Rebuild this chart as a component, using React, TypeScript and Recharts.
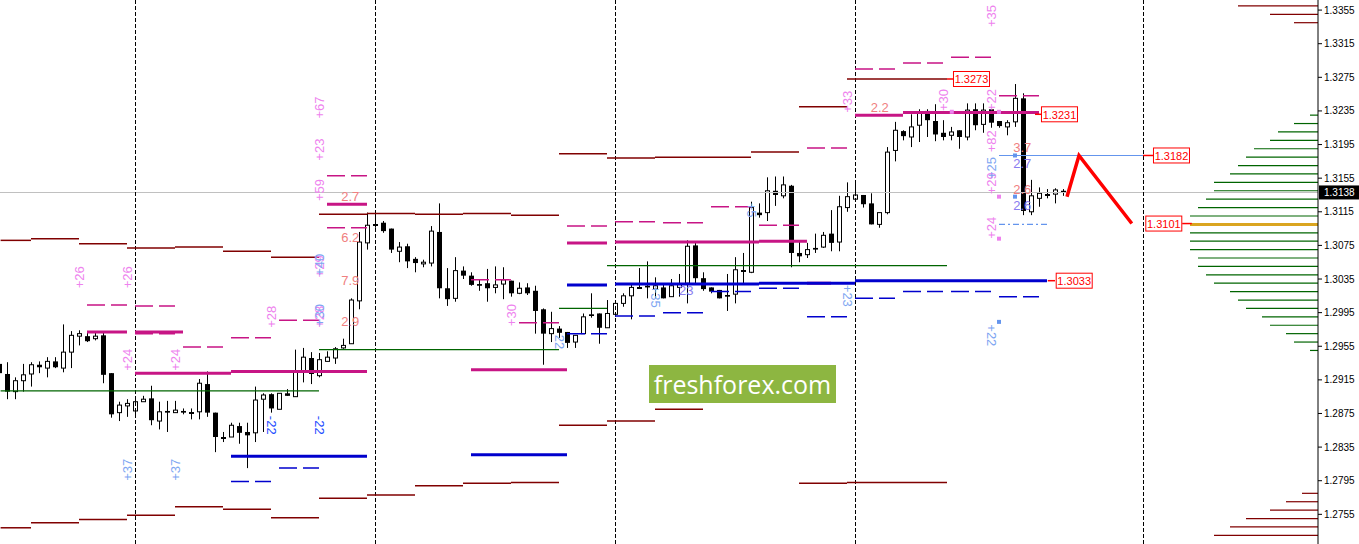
import { ComposedChart, Bar, Line, XAxis, YAxis, ReferenceLine, ReferenceDot } from 'recharts';

// bar index -> [open, high, low, close]
const ohlc: number[][] = [
  [1.2934, 1.2939, 1.2917, 1.2923], [1.2922, 1.2936, 1.2892, 1.2901], [1.2901, 1.2918, 1.2892, 1.2914],
  [1.2914, 1.2934, 1.2901, 1.2921], [1.2922, 1.2936, 1.2907, 1.2933], [1.2933, 1.2937, 1.2923, 1.2930],
  [1.2929, 1.2942, 1.2918, 1.2937], [1.2937, 1.2942, 1.2929, 1.2930], [1.2929, 1.2981, 1.2924, 1.2948],
  [1.2948, 1.2973, 1.2929, 1.2968], [1.2967, 1.2974, 1.2956, 1.2970], [1.2967, 1.2972, 1.2960, 1.2961],
  [1.2964, 1.2972, 1.2962, 1.2967], [1.2968, 1.2972, 1.2911, 1.2921], [1.2923, 1.2923, 1.2870, 1.2874],
  [1.2876, 1.2889, 1.2866, 1.2885], [1.2884, 1.2892, 1.2871, 1.2887], [1.2878, 1.2895, 1.2873, 1.2889],
  [1.2889, 1.2896, 1.2889, 1.2892], [1.2893, 1.2908, 1.2861, 1.2867], [1.2866, 1.2889, 1.2856, 1.2877],
  [1.2878, 1.2890, 1.2853, 1.2876], [1.2876, 1.2890, 1.2876, 1.2879], [1.2878, 1.2881, 1.2874, 1.2876],
  [1.2877, 1.2881, 1.2868, 1.2876], [1.2877, 1.2916, 1.2868, 1.2911], [1.2910, 1.2925, 1.2871, 1.2876],
  [1.2876, 1.2876, 1.2829, 1.2847], [1.2847, 1.2853, 1.2841, 1.2847], [1.2847, 1.2864, 1.2847, 1.2861],
  [1.2860, 1.2864, 1.2839, 1.2852], [1.2853, 1.2864, 1.2810, 1.2849], [1.2852, 1.2907, 1.2841, 1.2891],
  [1.2892, 1.2899, 1.2853, 1.2897], [1.2898, 1.2899, 1.2876, 1.2881], [1.2880, 1.2899, 1.2880, 1.2899],
  [1.2899, 1.2904, 1.2896, 1.2896], [1.2895, 1.2951, 1.2895, 1.2925], [1.2925, 1.2953, 1.2912, 1.2942],
  [1.2941, 1.2948, 1.2910, 1.2922], [1.2920, 1.2947, 1.2918, 1.2939], [1.2937, 1.2949, 1.2937, 1.2942],
  [1.2941, 1.2954, 1.2934, 1.2952], [1.2953, 1.2964, 1.2952, 1.2956], [1.2958, 1.3012, 1.2958, 1.3010],
  [1.3009, 1.3091, 1.2999, 1.3079], [1.3078, 1.3114, 1.3070, 1.3099], [1.3100, 1.3114, 1.3096, 1.3100],
  [1.3102, 1.3104, 1.3090, 1.3092], [1.3095, 1.3095, 1.3066, 1.3070], [1.3068, 1.3079, 1.3055, 1.3073],
  [1.3074, 1.3077, 1.3048, 1.3056], [1.3059, 1.3061, 1.3043, 1.3054], [1.3053, 1.3058, 1.3049, 1.3055],
  [1.3054, 1.3098, 1.3050, 1.3092], [1.3091, 1.3125, 1.3012, 1.3024], [1.3024, 1.3048, 1.3003, 1.3011],
  [1.3012, 1.3061, 1.3008, 1.3045], [1.3045, 1.3050, 1.3035, 1.3039], [1.3039, 1.3043, 1.3027, 1.3028],
  [1.3029, 1.3034, 1.3021, 1.3027], [1.3030, 1.3047, 1.3008, 1.3024], [1.3025, 1.3050, 1.3018, 1.3028],
  [1.3029, 1.3049, 1.3011, 1.3034], [1.3033, 1.3033, 1.3014, 1.3018], [1.3018, 1.3031, 1.3017, 1.3024],
  [1.3025, 1.3030, 1.3016, 1.3018], [1.3021, 1.3027, 1.2970, 1.2997], [1.2999, 1.3000, 1.2933, 1.2970],
  [1.2970, 1.2996, 1.2960, 1.2976], [1.2976, 1.2979, 1.2965, 1.2971], [1.2972, 1.2972, 1.2953, 1.2959],
  [1.2960, 1.2968, 1.2953, 1.2968], [1.2970, 1.2994, 1.2970, 1.2990], [1.2993, 1.3018, 1.2989, 1.2991],
  [1.2994, 1.2994, 1.2958, 1.2977], [1.2977, 1.3010, 1.2977, 1.2994], [1.2993, 1.3006, 1.2990, 1.3006],
  [1.3006, 1.3018, 1.3002, 1.3015], [1.3015, 1.3029, 1.2987, 1.3025], [1.3025, 1.3048, 1.3025, 1.3025],
  [1.3027, 1.3056, 1.3012, 1.3025], [1.3023, 1.3037, 1.3012, 1.3027], [1.3025, 1.3030, 1.3012, 1.3012],
  [1.3014, 1.3035, 1.3014, 1.3027], [1.3025, 1.3041, 1.3014, 1.3029], [1.3030, 1.3081, 1.3006, 1.3074],
  [1.3075, 1.3078, 1.3030, 1.3036], [1.3036, 1.3043, 1.3021, 1.3023], [1.3025, 1.3025, 1.3018, 1.3020],
  [1.3022, 1.3022, 1.3012, 1.3012], [1.3016, 1.3041, 1.2997, 1.3014], [1.3017, 1.3061, 1.3006, 1.3046],
  [1.3046, 1.3066, 1.3030, 1.3045], [1.3043, 1.3127, 1.3042, 1.3120], [1.3114, 1.3125, 1.3108, 1.3111],
  [1.3114, 1.3156, 1.3104, 1.3140], [1.3140, 1.3157, 1.3122, 1.3135], [1.3134, 1.3157, 1.3131, 1.3147],
  [1.3146, 1.3147, 1.3049, 1.3066], [1.3066, 1.3080, 1.3055, 1.3062], [1.3064, 1.3078, 1.3060, 1.3070],
  [1.3072, 1.3089, 1.3066, 1.3070], [1.3073, 1.3091, 1.3072, 1.3087], [1.3089, 1.3117, 1.3068, 1.3078],
  [1.3079, 1.3134, 1.3068, 1.3121], [1.3120, 1.3150, 1.3115, 1.3133], [1.3130, 1.3149, 1.3130, 1.3135],
  [1.3135, 1.3135, 1.3120, 1.3124], [1.3125, 1.3137, 1.3100, 1.3100], [1.3100, 1.3114, 1.3096, 1.3114],
  [1.3114, 1.3192, 1.3112, 1.3186], [1.3188, 1.3222, 1.3175, 1.3212], [1.3211, 1.3212, 1.3200, 1.3205],
  [1.3204, 1.3231, 1.3192, 1.3216], [1.3218, 1.3237, 1.3198, 1.3234], [1.3235, 1.3237, 1.3204, 1.3224],
  [1.3223, 1.3243, 1.3199, 1.3207], [1.3209, 1.3224, 1.3200, 1.3204], [1.3206, 1.3216, 1.3200, 1.3210],
  [1.3212, 1.3212, 1.3190, 1.3204], [1.3204, 1.3244, 1.3200, 1.3236], [1.3237, 1.3244, 1.3212, 1.3218],
  [1.3219, 1.3244, 1.3209, 1.3236], [1.3237, 1.3237, 1.3215, 1.3221], [1.3223, 1.3223, 1.3215, 1.3217],
  [1.3216, 1.3224, 1.3206, 1.3221], [1.3222, 1.3267, 1.3216, 1.3250], [1.3250, 1.3256, 1.3111, 1.3116],
  [1.3115, 1.3153, 1.3111, 1.3134], [1.3131, 1.3144, 1.3121, 1.3137], [1.3136, 1.3142, 1.3131, 1.3136],
  [1.3136, 1.3143, 1.3125, 1.3141], [1.3140, 1.3142, 1.3134, 1.3138],
];

const lastPrice = 1.3138;
const daySeparators = [17, 47, 77, 107, 143];
const priceTicks = [1.2755, 1.2795, 1.2835, 1.2875, 1.2915, 1.2955, 1.2995, 1.3035, 1.3075, 1.3115, 1.3155, 1.3195, 1.3235, 1.3275, 1.3315, 1.3355];

// [fromBar, toBar, price]
const darkRedLevels = [
  [0.2, 4, 1.3081], [4, 10, 1.3083], [10, 16, 1.3077], [16, 22, 1.3072], [22, 28, 1.3073], [28, 34, 1.3068],
  [34, 40, 1.3061], [40, 46, 1.3112], [46, 52, 1.3113], [52, 58, 1.3112], [58, 64, 1.3113], [64, 70, 1.3111],
  [70, 76, 1.3184], [76, 82, 1.3179], [82, 94, 1.3180], [94, 100, 1.3186], [100, 106, 1.3240], [106, 118.5, 1.3273],
  [0.2, 4, 1.2739], [4, 10, 1.2745], [10, 16, 1.2749], [16, 22, 1.2754], [22, 28, 1.2764], [28, 34, 1.2761],
  [34, 40, 1.2751], [40, 46, 1.2774], [46, 52, 1.2778], [52, 58, 1.2789], [58, 64, 1.2792], [64, 70, 1.2793],
  [70, 76, 1.2861], [76, 82, 1.2866], [82, 88, 1.2880], [88, 94, 1.2889], [100, 106, 1.2792], [106, 118.5, 1.2793],
];
const magentaLevels = [
  [11, 16, 1.2972], [17, 23, 1.2972], [17, 29, 1.2923], [29, 46, 1.2925], [41, 46, 1.3124], [59, 71, 1.2927],
  [71, 76, 1.3078], [77, 95, 1.3079], [95, 101, 1.3080], [101, 104, 1.3030], [107, 113, 1.3230], [113, 130, 1.3233],
];
const magentaDashed = [
  [11, 16, 1.3004], [17, 22, 1.3003], [17, 22, 1.2970], [23, 28, 1.2954], [29, 34, 1.2965], [35, 40, 1.2986],
  [41, 46, 1.3158], [41, 46, 1.3096], [59, 64, 1.3034], [65, 70, 1.2983], [71, 76, 1.3098], [77, 82, 1.3103],
  [83, 88, 1.3102], [89, 94, 1.3121], [95, 100, 1.3099], [101, 106, 1.3191], [107, 112, 1.3285], [113, 118, 1.3292],
  [119, 124, 1.3299], [125, 130, 1.3253],
];
const greenLevels = [[0.2, 40, 1.2902], [40, 70, 1.2951], [70, 76, 1.3000], [76, 118.5, 1.3051]];
const blueLevels = [[29, 46, 1.2824], [59, 71, 1.2826], [71, 76, 1.3028], [77, 95, 1.3029], [95, 107, 1.3030], [107, 131, 1.3033]];
const blueDashed = [
  [29, 34, 1.2794], [35, 40, 1.2810], [71, 76, 1.2970], [77, 82, 1.2991], [83, 88, 1.2995], [89, 94, 1.3020],
  [95, 100, 1.3024], [101, 106, 1.2990], [107, 112, 1.3012], [113, 118, 1.3020], [119, 124, 1.3020], [125, 130, 1.3014],
];
const targetLine = [125, 143, 1.3182];
const stopLine = [125, 131, 1.3100];

// forecast path
const forecast = [
  { i: 133.5, z: 1.3133 },
  { i: 135, z: 1.3182 },
  { i: 141.6, z: 1.3101 },
];

// price profile on the right: price, length in bars
const profilePrices = [
  1.3230, 1.3220, 1.3210, 1.3200, 1.3190, 1.3180, 1.3170, 1.3160, 1.3150, 1.3140, 1.3130, 1.3120, 1.3110,
  1.3090, 1.3080, 1.3070, 1.3060, 1.3050, 1.3040, 1.3030, 1.3020, 1.3010, 1.3000, 1.2990, 1.2980, 1.2970, 1.2960, 1.2950,
];
const profileCounts = [1, 3, 5, 6, 8, 9, 10, 11, 13, 13, 14, 15, 16, 16, 16, 16, 15, 15, 14, 13, 11, 10, 9, 7, 6, 4, 3, 1];
const pocPrice = 1.3100;
const pocCount = 16;
const extremePrices = [1.3360, 1.3350, 1.3340, 1.2780, 1.2770, 1.2760, 1.2750, 1.2740, 1.2730];
const extremeCounts = [10, 6, 3, 2, 4, 6, 9, 11, 13];

// [bar, price, text]
const pinkUp: [number, number, string][] = [
  [10.1, 1.3037, '+26'], [16.1, 1.3037, '+26'], [16.1, 1.2939, '+24'], [22.1, 1.2939, '+24'],
  [34.1, 1.2990, '+28'], [40.1, 1.2990, '+28'], [40.1, 1.3050, '+29'], [40.1, 1.3141, '+59'],
  [40.1, 1.3189, '+23'], [40.1, 1.3239, '+67'], [64.1, 1.2992, '+30'], [106.1, 1.3246, '+33'],
  [118.1, 1.3248, '+30'], [124.1, 1.3348, '+35'], [124.1, 1.3248, '+22'], [124.1, 1.3199, '+82'],
  [124.1, 1.3149, '+29'], [124.1, 1.3096, '+24'],
];
const blueUp: [number, number, string][] = [
  [16.1, 1.2808, '+37'], [22.1, 1.2808, '+37'], [40.1, 1.2992, '+30'], [40.1, 1.3052, '+40'], [124.1, 1.3167, '+25'],
];
const blueDown: [number, number, string][] = [
  [82, 1.3014, '+35'], [94, 1.3117, '+5'], [106, 1.3015, '+23'], [124.1, 1.2968, '+22'], [70, 1.2960, '22'],
];
const deepBlueDown: [number, number, string][] = [[34.1, 1.2861, '-22'], [40.1, 1.2861, '-22']];
const salmonText: [number, number, string][] = [
  [43.9, 1.3133, '2.7'], [43.9, 1.3084, '6.2'], [43.9, 1.3033, '7.9'], [43.9, 1.2984, '2.9'],
  [110.1, 1.3239, '2.2'], [127.9, 1.3191, '3.7'], [127.9, 1.3142, '2.6'],
];
const violetText: [number, number, string][] = [[85.9, 1.3021, '23'], [127.9, 1.3173, '2.7'], [127.9, 1.3123, '2.6']];
const pinkDots: [number, number][] = [[125, 1.3234], [125, 1.3133], [125, 1.3083], [119.1, 1.3234]];
const blueDots: [number, number][] = [[127, 1.3182], [127, 1.3133], [125, 1.2984]];

// [centerBar, price, text]
const priceBoxes: [number, number, string][] = [
  [121.56, 1.3273, '1.3273'], [132.56, 1.3231, '1.3231'], [146.56, 1.3182, '1.3182'],
  [145.6, 1.3101, '1.3101'], [134.4, 1.3033, '1.3033'],
];
const boxLinks = [[118.5, 119.3, 1.3273], [129.5, 130.4, 1.3231], [143, 144.4, 1.3182], [147.9, 149.1, 1.3101], [131.1, 132, 1.3033]];

const X_MIN = 0.125;
const X_MAX = 164.875;
const Y_MIN = 1.27197;
const Y_MAX = 1.3367;

const candles = ohlc.map((v, i) => ({ i, o: v[0], h: v[1], l: v[2], c: v[3], range: [v[2], v[1]] }));

const FONT = '"Liberation Sans", Arial, sans-serif';

function Candle(props: any) {
  const { x, y, width, height, payload } = props;
  const { o, h, l, c } = payload;
  const k = h === l ? 0 : height / (h - l);
  const mid = Math.round(x + width / 2) + 0.5;
  const top = y + (h - Math.max(o, c)) * k;
  const bh = Math.abs(o - c) * k;
  const left = mid - 2.5;
  return (
    <g>
      <line x1={mid} x2={mid} y1={y} y2={y + height} stroke="#000" strokeWidth={1} />
      {bh < 1.5 ? (
        <rect x={left} y={Math.round(top)} width={5} height={2} fill="#000" />
      ) : c >= o ? (
        <rect x={left + 0.5} y={top} width={4} height={bh} fill="#fff" stroke="#000" strokeWidth={1} />
      ) : (
        <rect x={left} y={top} width={5} height={bh} fill="#000" />
      )}
    </g>
  );
}

const seg = (a: number, b: number, p: number) => [
  { x: a, y: p },
  { x: b, y: p },
];

function vText(t: [number, number, string], color: string, rot: number, key: string) {
  return (
    <ReferenceDot
      key={key}
      x={t[0]}
      y={t[1]}
      r={0}
      ifOverflow="visible"
      shape={(p: any) => (
        <text
          x={p.cx}
          y={p.cy}
          transform={`rotate(${rot} ${p.cx} ${p.cy})`}
          textAnchor="middle"
          dominantBaseline="central"
          fill={color}
          fontSize={13}
          fontFamily={FONT}
        >
          {t[2]}
        </text>
      )}
    />
  );
}

export default function App() {
  return (
    <div style={{ position: 'absolute', left: 0, top: 0, width: 1359, height: 544, background: '#fff' }}>
      <ComposedChart width={1359} height={544} data={candles} margin={{ top: 0, right: 0, bottom: 0, left: 0 }}>
        <XAxis dataKey="i" type="number" domain={[X_MIN, X_MAX]} allowDataOverflow hide />
        <YAxis
          orientation="right"
          width={41}
          type="number"
          domain={[Y_MIN, Y_MAX]}
          allowDataOverflow
          ticks={priceTicks}
          tickFormatter={(v: number) => v.toFixed(4)}
          tick={{ fontSize: 10, fill: '#000', fontFamily: FONT }}
          tickSize={4}
          tickMargin={2}
          axisLine={{ stroke: '#000' }}
          tickLine={{ stroke: '#000' }}
        />

        <ReferenceLine y={lastPrice} stroke="#c0c0c0" ifOverflow="visible" shapeRendering="crispEdges" />
        {daySeparators.map((d) => (
          <ReferenceLine key={'d' + d} x={d} stroke="#000" strokeDasharray="4 2" shapeRendering="crispEdges" />
        ))}

        {darkRedLevels.map((s, n) => (
          <ReferenceLine key={'r' + n} segment={seg(s[0], s[1], s[2])} stroke="#800000" strokeWidth={1.5} ifOverflow="visible" />
        ))}
        {greenLevels.map((s, n) => (
          <ReferenceLine key={'g' + n} segment={seg(s[0], s[1], s[2])} stroke="#006400" strokeWidth={1.2} ifOverflow="visible" />
        ))}
        {magentaDashed.map((s, n) => (
          <ReferenceLine key={'md' + n} segment={seg(s[0], s[1], s[2])} stroke="#c71585" strokeWidth={1.5} strokeDasharray="18 6" ifOverflow="visible" />
        ))}
        {blueDashed.map((s, n) => (
          <ReferenceLine key={'bd' + n} segment={seg(s[0], s[1], s[2])} stroke="#0000cd" strokeWidth={1.5} strokeDasharray="18 6" ifOverflow="visible" />
        ))}
        {magentaLevels.map((s, n) => (
          <ReferenceLine key={'m' + n} segment={seg(s[0], s[1], s[2])} stroke="#c71585" strokeWidth={3} ifOverflow="visible" />
        ))}
        {blueLevels.map((s, n) => (
          <ReferenceLine key={'b' + n} segment={seg(s[0], s[1], s[2])} stroke="#0000cd" strokeWidth={3} ifOverflow="visible" />
        ))}
        <ReferenceLine segment={seg(targetLine[0], targetLine[1], targetLine[2])} stroke="#6495ed" strokeWidth={1.2} ifOverflow="visible" />
        <ReferenceLine segment={seg(stopLine[0], stopLine[1], stopLine[2])} stroke="#6495ed" strokeWidth={1.2} strokeDasharray="6 3 2 3" ifOverflow="visible" />

        {profilePrices.map((p, n) => (
          <ReferenceLine key={'pf' + n} segment={seg(X_MAX - profileCounts[n], X_MAX, p)} stroke="#006400" strokeWidth={1.2} ifOverflow="visible" />
        ))}
        <ReferenceLine segment={seg(X_MAX - pocCount, X_MAX, pocPrice)} stroke="#daa520" strokeWidth={3} ifOverflow="visible" />
        {extremePrices.map((p, n) => (
          <ReferenceLine key={'ex' + n} segment={seg(X_MAX - extremeCounts[n], X_MAX, p)} stroke="#800000" strokeWidth={1.2} ifOverflow="visible" />
        ))}
        {boxLinks.map((s, n) => (
          <ReferenceLine key={'bl' + n} segment={seg(s[0], s[1], s[2])} stroke="#ff0000" strokeWidth={1.5} ifOverflow="visible" />
        ))}

        <Bar dataKey="range" barSize={5} shape={<Candle />} isAnimationActive={false} />
        <Line
          data={forecast}
          dataKey="z"
          stroke="#ff0000"
          strokeWidth={3.5}
          dot={false}
          activeDot={false}
          isAnimationActive={false}
          strokeLinejoin="miter"
          strokeLinecap="butt"
        />

        {pinkUp.map((t, n) => vText(t, '#ee82ee', -90, 'pu' + n))}
        {blueUp.map((t, n) => vText(t, '#7ea6f2', -90, 'bu' + n))}
        {blueDown.map((t, n) => vText(t, '#7ea6f2', 90, 'bw' + n))}
        {deepBlueDown.map((t, n) => vText(t, '#1e4dff', 90, 'db' + n))}
        {salmonText.map((t, n) => vText(t, '#f08080', 0, 'st' + n))}
        {violetText.map((t, n) => vText(t, '#8a7cf0', 0, 'vt' + n))}

        {pinkDots.map((d, n) => (
          <ReferenceDot key={'pd' + n} x={d[0]} y={d[1]} r={0} ifOverflow="visible"
            shape={(p: any) => <rect x={p.cx - 2} y={p.cy - 2} width={4} height={4} fill="#ee82ee" />} />
        ))}
        {blueDots.map((d, n) => (
          <ReferenceDot key={'bdt' + n} x={d[0]} y={d[1]} r={0} ifOverflow="visible"
            shape={(p: any) => <rect x={p.cx - 2} y={p.cy - 2} width={4} height={4} fill="#6495ed" />} />
        ))}

        {priceBoxes.map((b, n) => (
          <ReferenceDot
            key={'pb' + n}
            x={b[0]}
            y={b[1]}
            r={0}
            ifOverflow="visible"
            shape={(p: any) => (
              <g>
                <rect x={p.cx - 18} y={p.cy - 7.5} width={36} height={15} fill="#fff" stroke="#ff0000" strokeWidth={1} />
                <text x={p.cx} y={p.cy + 0.5} textAnchor="middle" dominantBaseline="central" fill="#ff0000" fontSize={11} fontFamily={FONT}>
                  {b[2]}
                </text>
              </g>
            )}
          />
        ))}

        <ReferenceDot
          x={X_MAX}
          y={lastPrice}
          r={0}
          ifOverflow="visible"
          shape={(p: any) => (
            <g>
              <rect x={p.cx + 1} y={p.cy - 7} width={40} height={14} fill="#000" />
              <text x={p.cx + 6} y={p.cy + 0.5} dominantBaseline="central" fill="#fff" fontSize={10} fontFamily={FONT}>
                {lastPrice.toFixed(4)}
              </text>
            </g>
          )}
        />
      </ComposedChart>
      <div
        style={{
          position: 'absolute',
          left: 649,
          top: 365,
          width: 187,
          height: 38,
          background: '#8db641',
          color: '#fff',
          fontFamily: '"Open Sans", "Noto Sans", sans-serif',
          fontSize: 25,
          lineHeight: '38px',
          textAlign: 'center',
        }}
      >
        freshforex.com
      </div>
    </div>
  );
}
